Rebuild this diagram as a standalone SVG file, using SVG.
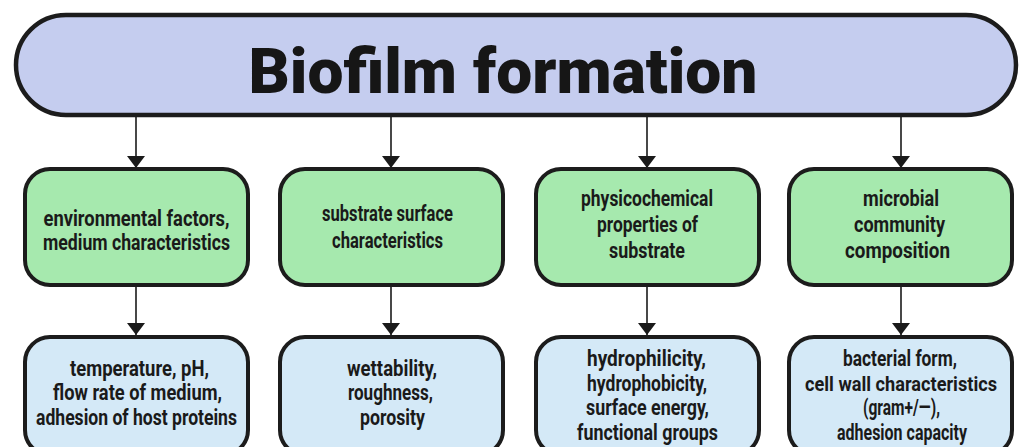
<svg xmlns="http://www.w3.org/2000/svg" width="1023" height="447" viewBox="0 0 1023 447">
<defs>
<marker id="ah" viewBox="0 0 12 18" markerWidth="12" markerHeight="18" refX="12" refY="9" orient="auto" markerUnits="userSpaceOnUse">
<path d="M0,0 L12,9 L0,18 Z" fill="#1a1a1a"/>
</marker>
<style>
.title{fill:#c5cdef;stroke:#1c1c1c;stroke-width:4.5}
.g{fill:#a6e9ae;stroke:#1c1c1c;stroke-width:4}
.b{fill:#d4e9f7;stroke:#1c1c1c;stroke-width:4}
.t{font-family:Roboto,"Liberation Sans",sans-serif;font-weight:700;font-size:22px;fill:#1a1a1a;text-anchor:middle}
.tt{font-family:Roboto,"Liberation Sans",sans-serif;font-weight:900;font-size:63px;fill:#161616;text-anchor:middle}
.c{stroke:#1a1a1a;stroke-width:1.6;fill:none}
</style>
</defs>
<rect width="1023" height="447" fill="#ffffff"/>
<g id="title">
<rect class="title" x="16" y="15" width="1000" height="100" rx="50" ry="50"/>
<text class="tt" x="503" y="93" textLength="509" lengthAdjust="spacingAndGlyphs">Biofilm formation</text>
</g>
<g id="connectors">
<line class="c" x1="136" y1="117" x2="136" y2="168" marker-end="url(#ah)"/>
<line class="c" x1="391" y1="117" x2="391" y2="168" marker-end="url(#ah)"/>
<line class="c" x1="647" y1="117" x2="647" y2="168" marker-end="url(#ah)"/>
<line class="c" x1="901" y1="117" x2="901" y2="168" marker-end="url(#ah)"/>
<line class="c" x1="136" y1="287" x2="136" y2="335" marker-end="url(#ah)"/>
<line class="c" x1="391" y1="287" x2="391" y2="335" marker-end="url(#ah)"/>
<line class="c" x1="647" y1="287" x2="647" y2="335" marker-end="url(#ah)"/>
<line class="c" x1="901" y1="287" x2="901" y2="335" marker-end="url(#ah)"/>
</g>
<g id="g1">
<rect class="g" x="25" y="169" width="223" height="116" rx="25"/>
<text class="t" x="136.5" y="226" textLength="186" lengthAdjust="spacingAndGlyphs">environmental factors,</text>
<text class="t" x="136.5" y="250" textLength="187" lengthAdjust="spacingAndGlyphs">medium characteristics</text>
</g>
<g id="g2">
<rect class="g" x="280" y="169" width="223" height="116" rx="25"/>
<text class="t" x="387.5" y="221" textLength="131" lengthAdjust="spacingAndGlyphs">substrate surface</text>
<text class="t" x="387.5" y="248" textLength="111" lengthAdjust="spacingAndGlyphs">characteristics</text>
</g>
<g id="g3">
<rect class="g" x="536" y="169" width="223" height="116" rx="25"/>
<text class="t" x="647" y="206" textLength="132" lengthAdjust="spacingAndGlyphs">physicochemical</text>
<text class="t" x="647.5" y="232" textLength="101" lengthAdjust="spacingAndGlyphs">properties of</text>
<text class="t" x="647" y="258" textLength="76" lengthAdjust="spacingAndGlyphs">substrate</text>
</g>
<g id="g4">
<rect class="g" x="789" y="169" width="223" height="116" rx="25"/>
<text class="t" x="901" y="206" textLength="76" lengthAdjust="spacingAndGlyphs">microbial</text>
<text class="t" x="899.5" y="232" textLength="91" lengthAdjust="spacingAndGlyphs">community</text>
<text class="t" x="897.5" y="258" textLength="105" lengthAdjust="spacingAndGlyphs">composition</text>
</g>
<g id="b1">
<rect class="b" x="25" y="337" width="223" height="118" rx="25"/>
<text class="t" x="139.5" y="376" textLength="139" lengthAdjust="spacingAndGlyphs">temperature, pH,</text>
<text class="t" x="137.5" y="400" textLength="169" lengthAdjust="spacingAndGlyphs">flow rate of medium,</text>
<text class="t" x="136.5" y="425" textLength="201" lengthAdjust="spacingAndGlyphs">adhesion of host proteins</text>
</g>
<g id="b2">
<rect class="b" x="280" y="337" width="223" height="118" rx="25"/>
<text class="t" x="392" y="376" textLength="90" lengthAdjust="spacingAndGlyphs">wettability,</text>
<text class="t" x="390.5" y="400" textLength="85" lengthAdjust="spacingAndGlyphs">roughness,</text>
<text class="t" x="392.5" y="425" textLength="65" lengthAdjust="spacingAndGlyphs">porosity</text>
</g>
<g id="b3">
<rect class="b" x="536" y="337" width="223" height="118" rx="25"/>
<text class="t" x="646.5" y="366" textLength="119" lengthAdjust="spacingAndGlyphs">hydrophilicity,</text>
<text class="t" x="647" y="391" textLength="120" lengthAdjust="spacingAndGlyphs">hydrophobicity,</text>
<text class="t" x="647.5" y="415" textLength="123" lengthAdjust="spacingAndGlyphs">surface energy,</text>
<text class="t" x="647.5" y="440" textLength="141" lengthAdjust="spacingAndGlyphs">functional groups</text>
</g>
<g id="b4">
<rect class="b" x="789" y="337" width="223" height="118" rx="25"/>
<text class="t" x="900" y="366" textLength="114" lengthAdjust="spacingAndGlyphs">bacterial form,</text>
<text class="t" x="901" y="391" font-size="20" style="font-size:20px" textLength="192" lengthAdjust="spacingAndGlyphs">cell wall characteristics</text>
<text class="t" x="901.5" y="415" textLength="77" lengthAdjust="spacingAndGlyphs">(gram+/—),</text>
<text class="t" x="902" y="440" textLength="130" lengthAdjust="spacingAndGlyphs">adhesion capacity</text>
</g>
</svg>
